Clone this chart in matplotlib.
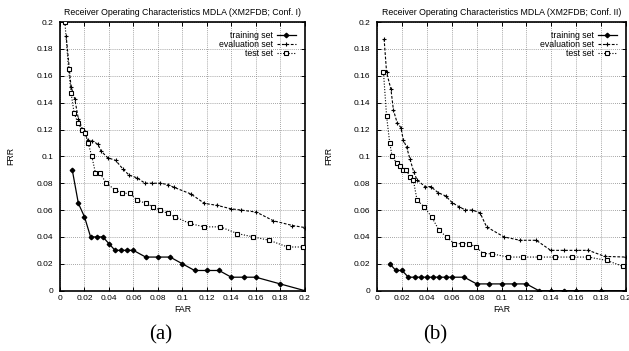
import matplotlib
matplotlib.use("Agg")
import matplotlib.pyplot as plt
from matplotlib.ticker import FuncFormatter, MultipleLocator

# ---- data: panel (a) ----
a_train_far = [0.01, 0.015, 0.02, 0.025, 0.03, 0.035, 0.04, 0.045, 0.05, 0.055, 0.06,
               0.07, 0.08, 0.09, 0.1, 0.11, 0.12, 0.13, 0.14, 0.15, 0.16, 0.18, 0.2]
a_train_frr = [0.09, 0.065, 0.055, 0.04, 0.04, 0.04, 0.035, 0.03, 0.03, 0.03, 0.03,
               0.025, 0.025, 0.025, 0.02, 0.015, 0.015, 0.015, 0.01, 0.01, 0.01, 0.005, 0.0]
a_eval_far = [0.005, 0.009, 0.012, 0.015, 0.0185, 0.023, 0.0265, 0.031, 0.0335, 0.039,
              0.0455, 0.0515, 0.0565, 0.063, 0.0695, 0.0755, 0.082, 0.088, 0.093, 0.107,
              0.118, 0.1285, 0.1395, 0.148, 0.1605, 0.1745, 0.19, 0.2]
a_eval_frr = [0.19, 0.152, 0.143, 0.128, 0.12, 0.112, 0.1115, 0.109, 0.104, 0.099,
              0.097, 0.0905, 0.086, 0.084, 0.08, 0.08, 0.08, 0.079, 0.077, 0.072,
              0.065, 0.0635, 0.061, 0.06, 0.0585, 0.052, 0.0485, 0.047]
a_test_far = [0.004, 0.007, 0.009, 0.0115, 0.0145, 0.018, 0.0205, 0.023, 0.026, 0.029,
              0.0325, 0.038, 0.045, 0.051, 0.057, 0.063, 0.07, 0.076, 0.082, 0.088,
              0.094, 0.106, 0.118, 0.131, 0.145, 0.158, 0.171, 0.186, 0.199]
a_test_frr = [0.2, 0.165, 0.1475, 0.1325, 0.125, 0.12, 0.1175, 0.11, 0.1, 0.0875,
              0.0875, 0.08, 0.075, 0.0725, 0.0725, 0.0675, 0.065, 0.0625, 0.06, 0.0575,
              0.055, 0.05, 0.0475, 0.0475, 0.0425, 0.04, 0.0375, 0.0325, 0.0325]

# ---- data: panel (b) ----
b_train_far = [0.01, 0.015, 0.02, 0.025, 0.03, 0.035, 0.04, 0.045, 0.05, 0.055, 0.06,
               0.07, 0.08, 0.09, 0.1, 0.11, 0.12, 0.13, 0.14, 0.15, 0.16, 0.18, 0.2]
b_train_frr = [0.02, 0.015, 0.015, 0.01, 0.01, 0.01, 0.01, 0.01, 0.01, 0.01, 0.01,
               0.01, 0.005, 0.005, 0.005, 0.005, 0.005, 0.0, 0.0, 0.0, 0.0, 0.0, 0.0]
b_eval_far = [0.0055, 0.0075, 0.011, 0.013, 0.016, 0.019, 0.021, 0.0236, 0.0263, 0.0295,
              0.032, 0.0384, 0.043, 0.049, 0.055, 0.0604, 0.0658, 0.071, 0.0765, 0.0827,
              0.088, 0.102, 0.115, 0.128, 0.1396, 0.15, 0.16, 0.17, 0.183, 0.2]
b_eval_frr = [0.1875, 0.1625, 0.15, 0.1345, 0.125, 0.1215, 0.112, 0.107, 0.098, 0.088,
              0.0825, 0.0775, 0.0775, 0.073, 0.0705, 0.0655, 0.0625, 0.06, 0.06, 0.058,
              0.0475, 0.04, 0.0375, 0.0375, 0.03, 0.03, 0.03, 0.03, 0.0255, 0.025]
b_test_far = [0.005, 0.0075, 0.01, 0.012, 0.0156, 0.018, 0.021, 0.023, 0.0263, 0.029,
              0.032, 0.0376, 0.0437, 0.0497, 0.0558, 0.062, 0.068, 0.074, 0.0795, 0.0854,
              0.092, 0.105, 0.1176, 0.1305, 0.143, 0.157, 0.17, 0.1847, 0.198]
b_test_frr = [0.1625, 0.13, 0.11, 0.1, 0.095, 0.0925, 0.09, 0.09, 0.085, 0.0825,
              0.0675, 0.0625, 0.055, 0.045, 0.04, 0.035, 0.035, 0.035, 0.0325, 0.0275,
              0.0275, 0.025, 0.025, 0.025, 0.025, 0.025, 0.025, 0.0225, 0.018]

titles = ["Receiver Operating Characteristics MDLA (XM2FDB; Conf. I)",
          "Receiver Operating Characteristics MDLA (XM2FDB; Conf. II)"]
captions = ["(a)", "(b)"]
series_labels = ["training set", "evaluation set", "test set"]

panels = [
    (a_train_far, a_train_frr, a_eval_far, a_eval_frr, a_test_far, a_test_frr),
    (b_train_far, b_train_frr, b_eval_far, b_eval_frr, b_test_far, b_test_frr),
]

plt.rcParams['font.family'] = ['Liberation Sans', 'DejaVu Sans']

fig = plt.figure(figsize=(6.29, 3.51), dpi=100)
axes_rects = [[0.0954, 0.172, 0.389, 0.765], [0.5998, 0.172, 0.395, 0.765]]
caption_x = [0.255, 0.692]


def fmt(v, pos):
    s = "%.2f" % v
    s = s.rstrip('0').rstrip('.')
    return s


for i, rect in enumerate(axes_rects):
    ax = fig.add_axes(rect)
    trf, trr, evf, evr, tef, ter = panels[i]
    ax.plot(trf, trr, color='black', lw=0.9, ls='-', marker='D', ms=2.3,
            mfc='black', mec='black', label=series_labels[0], zorder=3)
    ax.plot(evf, evr, color='black', lw=0.8, ls=(0, (2.5, 1.5)), marker='+', ms=3.5,
            mew=0.8, label=series_labels[1], zorder=3)
    ax.plot(tef, ter, color='black', lw=0.8, ls=(0, (1, 1.5)), marker='s', ms=3.3,
            mfc='white', mec='black', mew=0.8, label=series_labels[2], zorder=3)
    ax.set_xlim(0, 0.2)
    ax.set_ylim(0, 0.2)
    ax.xaxis.set_major_locator(MultipleLocator(0.02))
    ax.yaxis.set_major_locator(MultipleLocator(0.02))
    ax.xaxis.set_major_formatter(FuncFormatter(fmt))
    ax.yaxis.set_major_formatter(FuncFormatter(fmt))
    ax.grid(True, color='#888888', ls=(0, (1, 1.5)), lw=0.6)
    ax.tick_params(direction='in', length=3, width=0.7, labelsize=6.0, pad=3.5,
                   top=True, right=True)
    ax.tick_params(axis='y', pad=5)
    for sp in ax.spines.values():
        sp.set_linewidth(1.2)
    ax.set_title(titles[i], fontsize=6.3, pad=5)
    ax.set_xlabel("FAR", fontsize=6.3, labelpad=1.5)
    ax.set_ylabel("FRR", fontsize=6.3, labelpad=15)
    leg = ax.legend(loc='upper right', frameon=False, fontsize=6.3, markerfirst=False,
                    handlelength=2.2, handletextpad=0.4, labelspacing=0.0,
                    borderaxespad=0.6)
    fig.text(caption_x[i], 0.045, captions[i], fontsize=15, ha='center', va='center',
             family=['Liberation Serif', 'DejaVu Serif'])

fig.savefig("out.png", dpi=100)
